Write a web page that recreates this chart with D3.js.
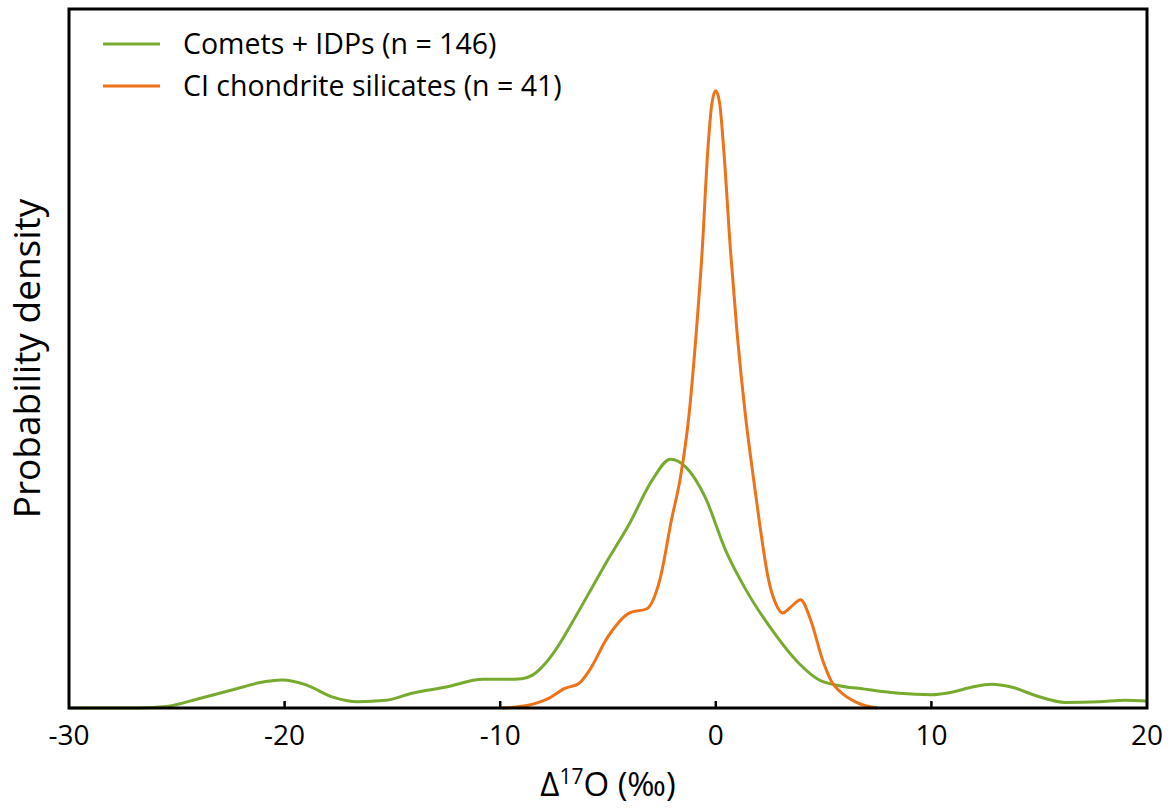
<!DOCTYPE html>
<html>
<head>
<meta charset="utf-8">
<script src="https://cdn.jsdelivr.net/npm/d3@7"></script>
<style>
  body { margin: 0; background: #fff; }
  text { font-family: "Open Sans", sans-serif; fill: #000; }
</style>
</head>
<body>
<script>
// density curves (x = D17O permil, y = relative density)
var cometX = [-30, -26.7, -25.5, -23.9, -22.4, -21.2, -20.1, -19.0, -17.8, -16.6, -15.3, -14.1, -12.5, -10.8, -9.9, -9.0, -8.5, -7.9, -7.5, -6.5, -5.6, -5.1, -4.0, -2.95, -2.1, -1.4, -0.5, 0.45, 1.4, 2.6, 3.85, 4.8, 5.55, 6.9, 8.5, 10.0, 11.0, 11.9, 12.8, 13.7, 15.0, 16.2, 17.8, 19.0, 20];
var cometY = [0, 0, 0.002, 0.014, 0.026, 0.036, 0.040, 0.033, 0.016, 0.009, 0.011, 0.021, 0.030, 0.041, 0.041, 0.042, 0.047, 0.064, 0.08, 0.131, 0.18, 0.207, 0.264, 0.326, 0.356, 0.345, 0.302, 0.226, 0.169, 0.112, 0.064, 0.040, 0.033, 0.027, 0.021, 0.019, 0.023, 0.030, 0.034, 0.030, 0.016, 0.008, 0.009, 0.011, 0.010];

var ciX = [-9.9, -8.7, -7.8, -7.0, -6.35, -5.9, -5.0, -4.0, -3.2, -2.6, -2.05, -1.64, -1.25, -0.91, -0.63, -0.37, -0.18, 0, 0.18, 0.37, 0.68, 0.99, 1.38, 1.76, 2.05, 2.45, 2.8, 3.1, 3.5, 3.93, 4.4, 4.95, 5.4, 5.75, 6.6, 7.5];
var ciY = [0, 0.004, 0.013, 0.028, 0.035, 0.052, 0.102, 0.136, 0.142, 0.183, 0.27, 0.33, 0.417, 0.536, 0.655, 0.798, 0.865, 0.883, 0.865, 0.798, 0.655, 0.536, 0.417, 0.326, 0.26, 0.183, 0.148, 0.136, 0.145, 0.155, 0.126, 0.069, 0.036, 0.024, 0.007, 0];

var xTicks = [-30, -20, -10, 0, 10, 20];
var seriesNames = ["Comets + IDPs (n = 146)", "CI chondrite silicates (n = 41)"];
var seriesColors = ["#77ab30", "#ee7217"];

var svg = d3.select("body").append("svg").attr("width", 1176).attr("height", 812);
var margin = {top: 9, right: 29, bottom: 104, left: 69};
var width = 1176 - margin.left - margin.right;
var height = 812 - margin.top - margin.bottom;
var g = svg.append("g").attr("transform", "translate(" + margin.left + "," + margin.top + ")");

var x = d3.scaleLinear().domain([-30, 20]).range([0, width]);
var y = d3.scaleLinear().domain([0, 1]).range([height, 0]);

var line = d3.line()
    .x(function(d) { return x(d[0]); })
    .y(function(d) { return y(d[1]); })
    .curve(d3.curveMonotoneX);

var series = [d3.zip(cometX, cometY), d3.zip(ciX, ciY)];

g.selectAll(".curve").data(series)
  .enter().append("path")
    .attr("class", "curve")
    .attr("d", line)
    .attr("fill", "none")
    .attr("stroke", function(d, i) { return seriesColors[i]; })
    .attr("stroke-width", 3)
    .attr("stroke-linejoin", "round");

// inner ticks
g.selectAll(".tick").data(xTicks.slice(1, -1))
  .enter().append("line")
    .attr("x1", function(d) { return x(d); })
    .attr("x2", function(d) { return x(d); })
    .attr("y1", height)
    .attr("y2", height - 7)
    .attr("stroke", "#000")
    .attr("stroke-width", 2.5);

g.selectAll(".tickLabel").data(xTicks)
  .enter().append("text")
    .attr("x", function(d) { return x(d); })
    .attr("y", height + 37)
    .attr("text-anchor", "middle")
    .attr("font-size", 28)
    .text(function(d) { return d; });

// frame
g.append("rect")
    .attr("width", width)
    .attr("height", height)
    .attr("fill", "none")
    .attr("stroke", "#000")
    .attr("stroke-width", 3);

// axis titles
var xTitle = g.append("text")
    .attr("x", width / 2)
    .attr("y", height + 88)
    .attr("text-anchor", "middle")
    .attr("font-size", 33);
xTitle.append("tspan").text("\u0394");
xTitle.append("tspan").attr("font-size", 21).attr("dy", -12).text("17");
xTitle.append("tspan").attr("dy", 12).text("O (\u2030)");

g.append("text")
    .attr("transform", "translate(" + (-29) + "," + (height / 2) + ") rotate(-90)")
    .attr("text-anchor", "middle")
    .attr("font-size", 37)
    .text("Probability density");

// legend
var legend = g.selectAll(".legend").data(seriesNames)
  .enter().append("g")
    .attr("transform", function(d, i) { return "translate(34," + (35 + i * 42) + ")"; });

legend.append("line")
    .attr("x1", 0).attr("x2", 57)
    .attr("stroke", function(d, i) { return seriesColors[i]; })
    .attr("stroke-width", 3);

legend.append("text")
    .attr("x", 80)
    .attr("y", 10)
    .attr("font-size", 28.5)
    .text(function(d) { return d; });
</script>
</body>
</html>
